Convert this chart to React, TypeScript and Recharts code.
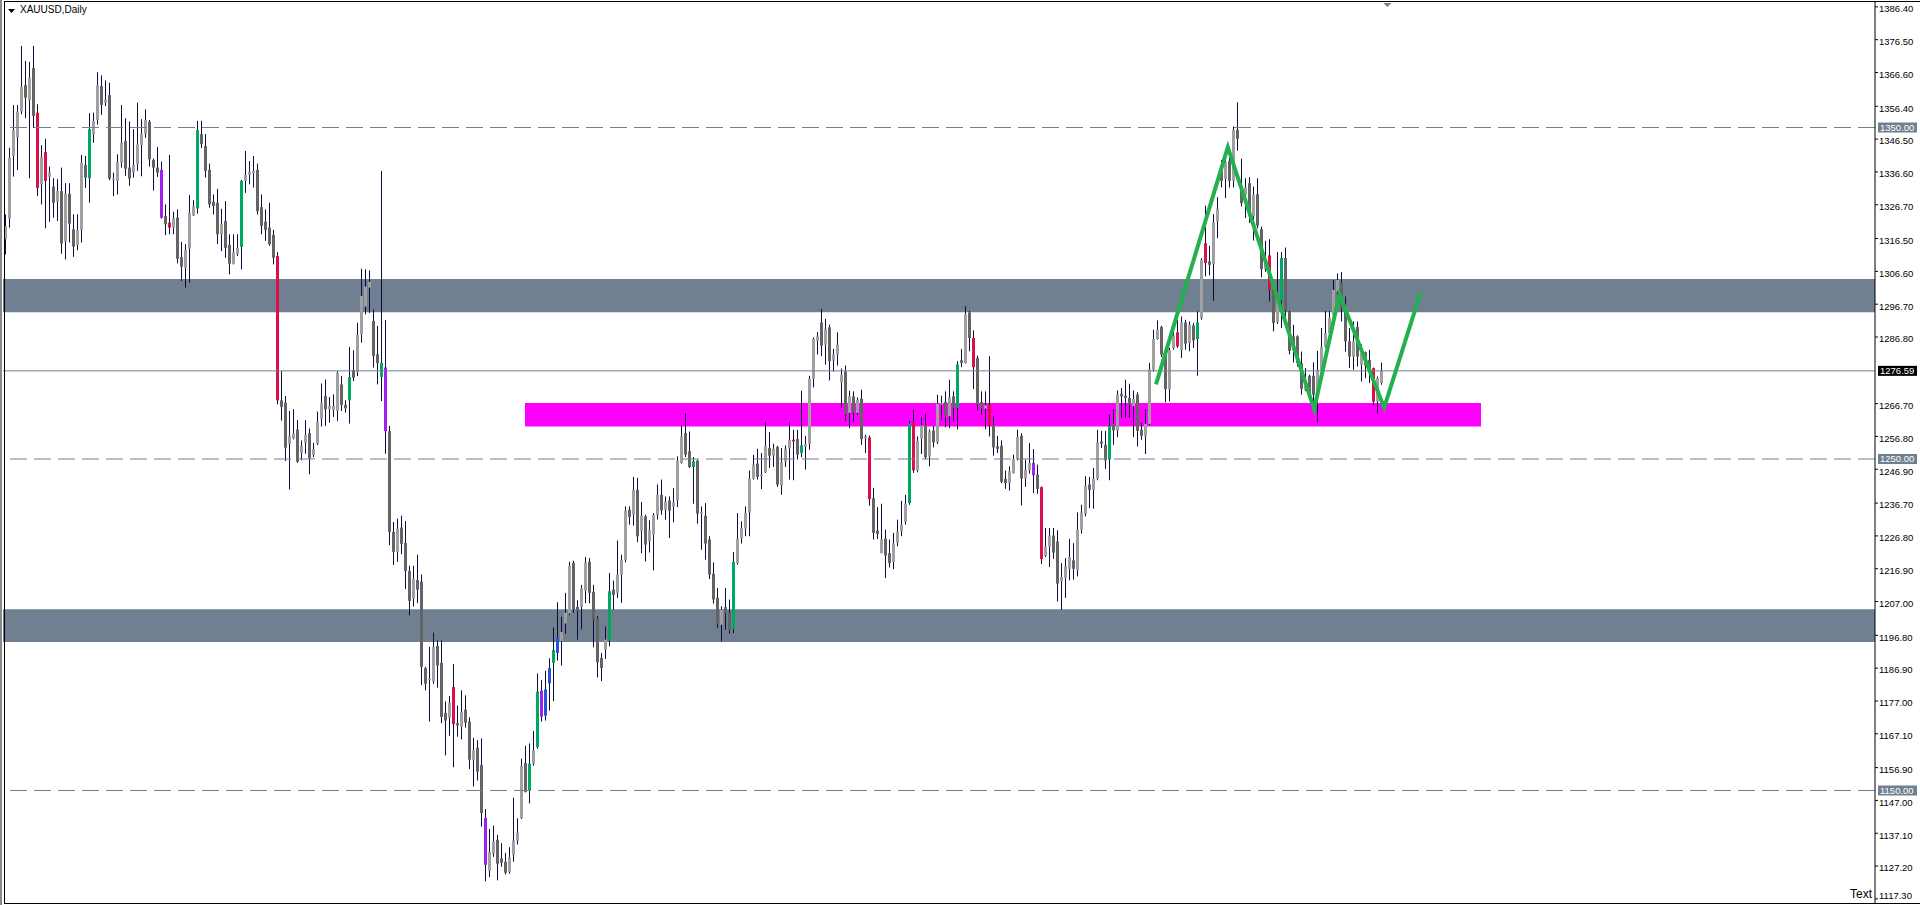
import React from 'react';
import {
  ComposedChart,
  Bar,
  XAxis,
  YAxis,
  ReferenceLine,
  ReferenceArea,
  ReferenceDot,
  Scatter,
} from 'recharts';

// ---------- DATA (XAUUSD daily) ----------
const opens = [
  1316.3,1322.5,1341.4,1347.1,1354.8,1362.8,1358.3,1367.9,1354.5,1332.8,
  1342.6,1335.2,1332.2,1327.6,1330.8,1315.6,1330.0,1319.3,1314.5,1319.1,
  1338.7,1334.7,1347.9,1352.3,1362.5,1357.5,1359.8,1334.1,1333.9,1339.4,
  1345.9,1337.9,1336.4,1338.9,1344.7,1348.1,1351.7,1340.2,1337.9,1337.2,
  1323.3,1321.3,1319.8,1322.8,1310.9,1307.7,1313.5,1323.5,1325.6,1348.0,
  1344.4,1337.2,1327.6,1327.3,1317.8,1321.8,1314.6,1308.9,1311.9,1314.0,
  1333.9,1335.7,1336.2,1337.2,1326.0,1321.6,1319.8,1317.6,1311.2,1267.7,
  1267.0,1254.6,1256.2,1258.9,1251.9,1254.8,1257.8,1251.2,1254.6,1262.0,
  1269.0,1265.0,1264.7,1264.5,1272.5,1266.3,1267.7,1276.8,1276.3,1287.6,
  1296.0,1301.7,1291.6,1281.6,1274.8,1277.6,1258.4,1228.0,1222.0,1229.3,
  1224.7,1216.2,1207.9,1213.5,1213.0,1186.9,1183.3,1182.9,1193.6,1188.5,
  1173.4,1172.0,1181.2,1170.3,1169.2,1174.4,1170.8,1159.1,1162.9,1157.7,
  1141.7,1125.7,1131.0,1135.1,1129.5,1128.5,1125.4,1130.5,1134.9,1141.7,
  1158.3,1149.9,1158.1,1163.1,1180.1,1172.6,1182.3,1188.5,1191.5,1195.1,
  1200.4,1203.4,1218.7,1205.4,1205.4,1210.3,1219.0,1209.9,1201.9,1190.0,
  1192.5,1195.2,1210.6,1209.6,1215.1,1219.6,1234.7,1233.2,1240.7,1228.2,
  1232.7,1225.2,1227.2,1233.0,1239.2,1234.7,1237.5,1235.7,1237.5,1248.8,
  1257.8,1252.3,1247.6,1249.5,1233.6,1232.9,1225.7,1215.4,1208.1,1200.0,
  1205.3,1203.5,1198.7,1218.6,1226.0,1229.0,1233.9,1244.1,1248.6,1244.8,
  1246.0,1253.3,1251.0,1253.6,1242.0,1249.3,1253.3,1255.8,1256.0,1251.8,
  1253.8,1254.6,1274.2,1285.7,1291.2,1284.5,1289.7,1279.7,1281.5,1273.1,
  1276.4,1263.9,1268.9,1263.9,1268.2,1256.3,1256.5,1238.2,1228.4,1221.6,
  1226.0,1221.6,1218.9,1224.7,1228.2,1231.0,1236.7,1261.2,1246.5,1256.1,
  1260.3,1250.8,1258.6,1255.0,1266.4,1267.2,1262.9,1268.9,1265.4,1279.8,
  1278.9,1294.2,1286.5,1280.5,1267.2,1265.2,1266.4,1260.3,1253.8,1254.0,
  1244.0,1242.7,1245.8,1250.0,1257.0,1244.1,1246.6,1248.8,1245.3,1241.5,
  1220.8,1223.6,1226.9,1225.1,1213.1,1214.1,1216.9,1219.4,1216.4,1228.7,
  1233.5,1242.3,1240.7,1244.0,1255.3,1254.3,1249.8,1260.6,1258.6,1269.7,
  1269.1,1268.4,1265.9,1269.4,1258.8,1256.8,1260.6,1277.0,1286.2,1289.8,
  1281.5,1271.1,1283.5,1288.2,1282.8,1291.2,1285.0,1290.3,1286.2,1292.5,
  1315.1,1309.6,1308.8,1321.8,1337.0,1334.5,1339.9,1333.9,1349.3,1331.9,
  1329.7,1333.2,1323.2,1329.9,1319.3,1307.3,1311.4,1301.5,1291.3,1297.8,
  1310.6,1294.3,1287.0,1287.0,1278.9,1270.9,1275.1,1275.1,1269.4,1276.9,
  1283.9,1288.0,1293.5,1300.5,1303.3,1295.0,1285.5,1280.9,1289.8,1278.4,
  1282.2,1279.9,1277.4,1267.3,1272.9,
];

const highs = [
  1323.8,1343.9,1356.8,1356.8,1374.6,1370.1,1369.8,1374.6,1357.0,1344.7,
  1346.6,1338.2,1334.7,1334.4,1337.9,1333.2,1333.2,1323.8,1323.8,1341.7,
  1341.4,1354.3,1354.5,1366.7,1365.7,1364.2,1363.5,1336.4,1341.9,1356.8,
  1352.8,1351.8,1349.5,1357.5,1352.5,1355.5,1352.3,1340.7,1344.1,1339.7,
  1326.8,1341.7,1324.6,1325.3,1315.5,1314.8,1329.6,1328.1,1352.0,1352.0,
  1348.0,1339.1,1329.8,1331.5,1325.5,1327.8,1317.8,1317.8,1317.8,1334.2,
  1342.9,1339.9,1341.4,1339.1,1329.8,1325.3,1327.3,1319.1,1312.4,1276.5,
  1269.0,1264.5,1265.0,1261.8,1255.6,1261.7,1259.2,1254.9,1264.3,1272.8,
  1274.0,1268.7,1269.5,1276.5,1275.0,1267.7,1283.8,1282.8,1291.1,1307.4,
  1307.2,1306.9,1295.1,1290.1,1336.9,1291.9,1260.0,1231.0,1232.0,1232.9,
  1231.3,1217.8,1217.8,1221.1,1215.2,1187.3,1193.3,1197.6,1195.3,1195.3,
  1176.9,1178.5,1188.2,1175.6,1180.2,1178.7,1172.1,1165.9,1165.2,1165.7,
  1144.4,1138.4,1139.4,1136.6,1134.1,1131.2,1132.9,1147.8,1141.6,1159.6,
  1163.5,1164.2,1167.9,1185.3,1183.3,1186.1,1189.9,1199.2,1206.8,1202.4,
  1209.6,1219.0,1219.3,1207.4,1212.0,1220.4,1220.1,1212.0,1202.6,1191.5,
  1199.5,1215.6,1213.3,1225.4,1221.1,1235.7,1235.7,1244.6,1244.3,1237.0,
  1233.2,1231.5,1233.7,1242.3,1243.8,1238.7,1238.7,1241.2,1250.8,1260.0,
  1263.9,1258.3,1250.6,1249.8,1235.7,1236.7,1226.7,1218.8,1211.1,1205.6,
  1211.1,1207.6,1221.9,1233.7,1231.2,1235.7,1246.5,1251.3,1253.1,1251.8,
  1261.1,1258.1,1254.6,1254.0,1253.3,1254.1,1261.1,1258.8,1258.8,1270.6,
  1257.0,1275.1,1286.7,1288.3,1295.3,1292.3,1290.5,1283.2,1288.2,1277.3,
  1278.2,1270.6,1270.4,1268.6,1270.9,1257.3,1257.1,1241.3,1235.5,1236.5,
  1228.7,1225.7,1227.7,1231.7,1237.4,1239.2,1261.4,1264.9,1256.8,1262.6,
  1263.7,1258.9,1259.9,1269.4,1269.1,1270.4,1273.9,1270.4,1279.5,1283.2,
  1296.1,1294.7,1288.8,1281.2,1270.4,1270.4,1281.0,1262.9,1257.0,1255.6,
  1246.5,1247.8,1251.3,1258.8,1257.8,1249.8,1254.8,1253.0,1248.3,1241.7,
  1229.2,1229.2,1229.2,1228.5,1218.6,1220.1,1225.9,1224.6,1233.9,1236.2,
  1244.8,1244.6,1247.3,1258.8,1258.5,1258.5,1263.4,1265.1,1270.7,1271.4,
  1273.9,1272.7,1270.7,1270.1,1261.0,1265.1,1279.0,1289.0,1291.8,1290.2,
  1283.0,1283.5,1289.5,1292.0,1293.0,1292.0,1291.5,1291.0,1294.5,1310.6,
  1326.4,1314.3,1323.9,1329.0,1340.2,1342.0,1342.8,1350.3,1357.6,1340.6,
  1334.7,1335.0,1332.2,1334.7,1320.1,1315.8,1316.3,1301.7,1312.4,1312.4,
  1313.8,1294.7,1290.5,1287.3,1282.4,1277.4,1275.4,1279.2,1282.6,1289.5,
  1294.7,1294.7,1304.0,1306.0,1306.4,1299.0,1289.5,1291.5,1291.5,1284.6,
  1282.4,1282.9,1277.6,1274.9,1279.1,
];

const lows = [
  1311.7,1319.8,1335.2,1337.2,1354.0,1352.8,1334.7,1349.9,1329.3,1326.8,
  1319.6,1321.6,1322.8,1321.8,1311.9,1310.2,1315.3,1311.0,1313.0,1315.3,
  1331.8,1327.3,1345.4,1350.9,1353.8,1356.5,1334.1,1329.3,1329.8,1337.9,
  1335.4,1332.4,1334.9,1336.9,1335.3,1346.9,1338.2,1331.0,1335.1,1322.5,
  1317.5,1317.8,1317.8,1309.0,1303.7,1301.7,1303.2,1323.3,1324.0,1343.8,
  1334.9,1325.8,1323.8,1314.8,1312.7,1310.7,1305.7,1308.7,1311.2,1307.2,
  1330.3,1332.9,1331.9,1323.8,1317.8,1315.8,1314.3,1308.7,1266.5,1261.6,
  1249.4,1240.8,1255.9,1248.8,1249.6,1251.6,1245.4,1250.6,1254.2,1259.8,
  1260.0,1261.0,1262.7,1261.5,1264.5,1264.0,1260.7,1273.5,1275.0,1285.1,
  1293.6,1294.1,1277.6,1272.5,1267.5,1251.6,1224.0,1218.0,1219.0,1221.3,
  1210.8,1202.8,1205.5,1206.5,1181.8,1180.2,1170.8,1182.2,1181.0,1170.3,
  1160.6,1166.5,1157.0,1166.2,1165.4,1169.0,1156.5,1151.2,1153.0,1139.1,
  1122.6,1123.9,1130.0,1122.9,1127.0,1124.7,1124.9,1128.5,1133.7,1141.4,
  1149.4,1146.1,1157.5,1162.6,1170.8,1171.1,1174.1,1177.0,1189.2,1187.7,
  1197.3,1202.9,1203.6,1195.5,1198.6,1206.5,1206.5,1193.2,1184.1,1183.0,
  1189.7,1193.5,1204.5,1208.1,1206.6,1218.8,1230.2,1229.9,1224.9,1221.6,
  1219.1,1221.8,1216.4,1231.7,1233.2,1231.7,1226.2,1230.9,1235.5,1248.6,
  1250.6,1247.3,1236.5,1230.5,1222.6,1219.6,1213.8,1206.4,1199.0,1195.0,
  1198.5,1197.3,1197.5,1218.1,1224.5,1226.7,1226.7,1243.8,1243.8,1240.9,
  1245.8,1247.3,1247.6,1241.6,1239.2,1247.6,1243.8,1243.6,1249.8,1250.5,
  1246.8,1252.8,1271.6,1281.5,1281.0,1278.5,1273.7,1276.4,1278.2,1265.4,
  1261.4,1259.3,1261.1,1263.4,1254.3,1251.8,1235.9,1225.7,1225.9,1221.6,
  1214.1,1217.3,1216.8,1223.7,1226.7,1230.2,1236.2,1245.8,1246.0,1251.5,
  1250.0,1247.8,1253.5,1254.5,1261.9,1259.6,1259.3,1261.4,1258.9,1277.7,
  1278.8,1282.5,1271.1,1264.6,1263.4,1259.0,1256.8,1251.0,1251.8,1242.7,
  1241.0,1240.5,1245.6,1249.6,1236.0,1241.6,1245.6,1239.7,1239.5,1218.3,
  1220.4,1217.4,1219.9,1207.0,1204.5,1208.1,1213.4,1213.6,1214.6,1227.5,
  1232.7,1235.2,1235.0,1243.6,1253.3,1247.0,1243.6,1254.3,1256.6,1262.4,
  1262.4,1262.4,1256.6,1253.8,1255.8,1251.5,1260.3,1276.4,1286.0,1280.8,
  1267.1,1267.4,1283.0,1283.5,1280.5,1283.0,1282.5,1283.5,1275.1,1292.0,
  1305.1,1305.4,1297.7,1316.6,1331.9,1328.7,1331.9,1331.9,1343.0,1326.2,
  1322.7,1321.2,1315.9,1319.6,1304.8,1306.5,1297.5,1288.5,1290.7,1289.5,
  1291.0,1281.6,1279.1,1277.9,1269.4,1270.5,1267.9,1265.3,1260.8,1276.4,
  1283.6,1287.5,1292.5,1299.5,1291.5,1282.4,1277.4,1276.9,1277.9,1273.4,
  1274.4,1272.9,1266.1,1263.8,1272.4,
];

const closes = [
  1320.3,1340.9,1349.2,1354.8,1362.3,1359.0,1365.0,1353.5,1331.8,1341.2,
  1333.9,1336.4,1327.3,1330.8,1315.0,1330.0,1321.0,1314.1,1319.1,1339.4,
  1334.9,1349.5,1352.0,1362.8,1356.8,1358.5,1334.6,1334.6,1339.6,1345.4,
  1337.6,1334.6,1338.7,1344.9,1348.1,1352.3,1340.4,1337.9,1336.4,1322.8,
  1320.8,1319.8,1322.6,1310.4,1308.0,1313.0,1324.3,1326.3,1349.2,1345.0,
  1336.9,1326.8,1326.3,1317.8,1321.0,1313.7,1308.9,1312.3,1313.7,1333.9,
  1335.7,1336.6,1336.9,1324.8,1320.3,1319.1,1314.8,1310.7,1267.7,1265.7,
  1253.4,1256.9,1257.7,1249.2,1253.9,1257.2,1250.2,1252.9,1261.3,1266.8,
  1265.0,1266.0,1266.0,1276.0,1266.3,1265.3,1274.7,1274.5,1287.4,1299.2,
  1302.0,1303.4,1281.1,1278.9,1279.0,1258.4,1228.0,1222.0,1229.0,1224.4,
  1216.2,1207.2,1213.9,1210.6,1187.3,1182.2,1183.8,1193.3,1187.7,1172.2,
  1171.1,1176.4,1170.0,1169.6,1173.7,1170.5,1159.3,1162.1,1155.7,1143.2,
  1127.6,1131.5,1134.6,1127.9,1128.2,1125.2,1129.8,1134.9,1137.3,1157.4,
  1149.6,1158.1,1162.1,1179.8,1172.3,1180.5,1186.9,1192.4,1196.1,1197.8,
  1203.6,1217.7,1204.6,1204.2,1210.9,1218.7,1209.6,1201.4,1188.7,1187.0,
  1195.5,1210.1,1209.0,1215.1,1219.6,1234.4,1232.5,1240.7,1226.7,1232.9,
  1224.2,1228.5,1233.2,1239.2,1234.5,1237.2,1234.4,1236.9,1249.5,1256.8,
  1251.3,1247.6,1249.3,1233.5,1234.0,1224.5,1215.1,1207.6,1200.3,1204.5,
  1203.5,1198.3,1218.9,1225.9,1229.2,1233.7,1244.1,1248.3,1244.6,1245.3,
  1254.0,1251.0,1253.1,1242.3,1249.0,1253.1,1255.8,1255.3,1251.3,1254.1,
  1254.5,1274.2,1286.3,1287.0,1284.2,1289.3,1279.5,1281.5,1284.5,1275.4,
  1263.4,1268.9,1263.9,1267.9,1256.0,1256.8,1237.9,1227.7,1227.4,1225.7,
  1220.9,1218.6,1224.5,1228.0,1230.2,1236.5,1260.7,1246.6,1255.5,1260.1,
  1250.5,1258.3,1255.0,1266.7,1266.9,1262.6,1268.6,1265.4,1278.5,1279.0,
  1293.7,1286.5,1277.7,1266.4,1265.2,1266.2,1260.1,1253.5,1253.1,1243.1,
  1242.7,1246.3,1250.0,1256.6,1244.1,1246.8,1248.8,1245.1,1241.0,1219.8,
  1223.6,1226.9,1221.8,1212.4,1214.4,1217.6,1220.4,1216.9,1228.7,1233.9,
  1241.9,1240.7,1244.1,1255.0,1254.6,1249.6,1260.0,1258.6,1269.4,1268.9,
  1268.4,1266.4,1268.1,1258.5,1257.0,1260.6,1277.0,1286.2,1289.0,1281.5,
  1271.1,1282.8,1287.3,1284.0,1291.3,1284.8,1290.5,1285.8,1291.2,1310.1,
  1309.1,1308.6,1321.4,1325.5,1333.9,1339.5,1333.9,1349.3,1346.6,1327.2,
  1331.9,1323.2,1329.7,1320.4,1307.3,1310.2,1301.0,1291.0,1298.0,1310.6,
  1294.7,1282.6,1283.0,1278.9,1271.2,1272.2,1268.9,1269.4,1276.9,1283.9,
  1288.0,1292.5,1301.0,1304.0,1295.3,1285.5,1280.9,1285.5,1280.9,1281.9,
  1278.2,1277.2,1267.3,1274.4,1276.6,
];

// bars highlighted by the indicator colours
const crimsonBars = [8, 10, 41, 68, 112, 197, 216, 227, 242, 246, 259, 293, 300, 316, 342];
const greenBars = [21, 48, 59, 86, 94, 131, 133, 137, 151, 172, 182, 199, 226, 238, 276, 298, 319];
const purpleBars = [39, 95, 120, 134, 257];
const blueBars = [135, 136, 138];

const priceTicks = [
  1386.4, 1376.5, 1366.6, 1356.4, 1346.5, 1336.6, 1326.7, 1316.5, 1306.6, 1296.7,
  1286.8, 1266.7, 1256.8, 1246.9, 1236.7, 1226.8, 1216.9, 1207.0, 1196.8, 1186.9,
  1177.0, 1167.1, 1156.9, 1147.0, 1137.1, 1127.2, 1117.3,
];
const roundLevels = [1350, 1250, 1150];
const lastPrice = 1276.59;
const supportZones = [
  { low: 1294.3, high: 1304.3 },
  { low: 1194.8, high: 1204.7 },
];
const magentaZone = { fromBar: 130, toBar: 369, low: 1259.8, high: 1266.9 };
const zigzagBars = [287.75, 305.7, 327.3, 333.6, 344.8, 353.9];
const zigzagPrices = [1272.5, 1344.1, 1265.0, 1299.7, 1265.5, 1300.2];
const shiftMarkerBar = 345.6;

const TOTAL_SLOTS = 468;
const PRICE_MIN = 1116.06;
const PRICE_MAX = 1387.86;

// ---------- COLOURS ----------
const WICK = '#0e0b3d';
const UP = '#a0a0a0';
const DOWN = '#646464';
const CRIMSON = '#dc0f4b';
const GREEN = '#00a862';
const PURPLE = '#a020f0';
const BLUE = '#2653d9';
const SLATE = '#708090';

const colourOf = (i: number, o: number, c: number) => {
  if (crimsonBars.includes(i)) return CRIMSON;
  if (greenBars.includes(i)) return GREEN;
  if (purpleBars.includes(i)) return PURPLE;
  if (blueBars.includes(i)) return BLUE;
  return c >= o ? UP : DOWN;
};

const rows = Array.from({ length: TOTAL_SLOTS }, (_, i) => {
  if (i >= opens.length) return { i, range: null as any };
  const o = opens[i];
  const c = closes[i];
  const h = Math.max(highs[i], o, c);
  const l = Math.min(lows[i], o, c);
  return { i, range: [l, h], o, h, l, c, col: colourOf(i, o, c) };
});

const zigzag = zigzagBars.map((x, k) => ({ x, y: zigzagPrices[k] }));

const FONT = '"Liberation Sans", Arial, sans-serif';

const Candle = (props: any) => {
  const { x, y, width, height, payload } = props;
  if (!payload || payload.h == null || height == null || isNaN(height)) return null;
  const { o, h, l, c, col } = payload;
  const top = Math.min(y, y + height);
  const hh = Math.abs(height);
  const ppu = hh / Math.max(h - l, 1e-6);
  const yOf = (v: number) => top + (h - v) * ppu;
  const left = Math.round(x + (width - 4) / 2);
  const bTop = yOf(Math.max(o, c));
  const bBot = yOf(Math.min(o, c));
  const bH = Math.max(1, bBot - bTop);
  return (
    <g>
      <rect x={left + 2} y={top} width={1} height={Math.max(1, hh)} fill={WICK} />
      <rect x={left + 1} y={bTop} width={3} height={bH} fill={col} />
    </g>
  );
};

const PriceTick = (props: any) => {
  const { x, y, payload } = props;
  const ly = Math.min(y + 2, 896);
  return (
    <text
      x={x}
      y={ly}
      dy="0.35em"
      textAnchor="start"
      fontSize={9.5}
      fontFamily={FONT}
      fill="#000"
    >
      {Number(payload.value).toFixed(2)}
    </text>
  );
};

const Badge = (props: any) => {
  const { viewBox, text, bg } = props;
  if (!viewBox) return null;
  const bx = viewBox.x + viewBox.width + 3;
  const by = viewBox.y;
  return (
    <g>
      <rect x={bx} y={by - 5} width={39} height={10} fill={bg} />
      <text
        x={bx + 2}
        y={by}
        dy="0.35em"
        fontSize={9.5}
        fontFamily={FONT}
        fill="#fff"
      >
        {text}
      </text>
    </g>
  );
};

const ShiftMarker = (props: any) => {
  const { cx, cy } = props;
  if (cx == null) return null;
  return (
    <polygon
      points={`${cx - 4},${cy + 1} ${cx + 4},${cy + 1} ${cx},${cy + 5}`}
      fill={SLATE}
    />
  );
};

const NoDot = () => <g />;

export default function App() {
  return (
    <div
      style={{
        position: 'absolute',
        left: 0,
        top: 0,
        width: 1920,
        height: 905,
        background: '#fff',
        overflow: 'hidden',
        fontFamily: FONT,
      }}
    >
      <ComposedChart
        width={1920}
        height={905}
        data={rows}
        margin={{ top: 2, right: 0, bottom: 2, left: 3 }}
        barCategoryGap={0}
        barGap={0}
      >
        <XAxis dataKey="i" type="category" hide />
        <XAxis
          xAxisId="num"
          dataKey="x"
          type="number"
          domain={[-0.5, TOTAL_SLOTS - 0.5]}
          allowDataOverflow
          hide
        />
        <YAxis
          dataKey="y"
          orientation="right"
          type="number"
          width={45}
          domain={[PRICE_MIN, PRICE_MAX]}
          allowDataOverflow
          ticks={priceTicks}
          interval={0}
          tick={<PriceTick />}
          tickSize={3}
          tickMargin={1}
          axisLine={{ stroke: '#000' }}
          tickLine={{ stroke: '#000' }}
        />

        {supportZones.map((z, k) => (
          <ReferenceArea
            key={'zone' + k}
            y1={z.low}
            y2={z.high}
            fill={SLATE}
            fillOpacity={1}
            stroke="none"
          />
        ))}
        <ReferenceArea
          xAxisId="num"
          x1={magentaZone.fromBar}
          x2={magentaZone.toBar}
          y1={magentaZone.low}
          y2={magentaZone.high}
          fill="#ff00ff"
          fillOpacity={1}
          stroke="none"
        />
        {roundLevels.map((lv) => (
          <ReferenceLine
            key={'lv' + lv}
            y={lv}
            stroke={SLATE}
            strokeWidth={1}
            strokeDasharray="17 7"
            label={<Badge text={lv.toFixed(2)} bg={SLATE} />}
          />
        ))}
        <ReferenceLine
          y={lastPrice}
          stroke={SLATE}
          strokeWidth={1}
          label={<Badge text={lastPrice.toFixed(2)} bg="#000" />}
        />

        <Bar
          dataKey="range"
          barSize={4}
          isAnimationActive={false}
          shape={<Candle />}
        />

        <Scatter
          xAxisId="num"
          data={zigzag}
          dataKey="y"
          line={{ stroke: '#22b14c', strokeWidth: 4 }}
          lineType="joint"
          shape={<NoDot />}
          fill="#22b14c"
          isAnimationActive={false}
        />

        <ReferenceDot
          xAxisId="num"
          x={shiftMarkerBar}
          y={PRICE_MAX}
          shape={<ShiftMarker />}
        />
      </ComposedChart>

      {/* window frame */}
      <div style={{ position: 'absolute', left: 0, top: 0, width: 2, height: 905, background: '#8a8a8a' }} />
      <div style={{ position: 'absolute', left: 4, top: 1, width: 1, height: 903, background: '#000' }} />
      <div style={{ position: 'absolute', left: 4, top: 1, width: 1916, height: 1, background: '#000' }} />
      <div style={{ position: 'absolute', left: 4, top: 903, width: 1916, height: 1, background: '#000' }} />

      {/* title */}
      <svg style={{ position: 'absolute', left: 8, top: 9 }} width={8} height={5}>
        <polygon points="0,0 7,0 3.5,4" fill="#000" />
      </svg>
      <div
        style={{
          position: 'absolute',
          left: 20,
          top: 4,
          fontSize: 10,
          lineHeight: '12px',
          color: '#000',
          fontFamily: FONT,
        }}
      >
        XAUUSD,Daily
      </div>

      <div
        style={{
          position: 'absolute',
          left: 1850,
          top: 887,
          fontSize: 12,
          lineHeight: '14px',
          color: '#000',
          fontFamily: FONT,
        }}
      >
        Text
      </div>
    </div>
  );
}
